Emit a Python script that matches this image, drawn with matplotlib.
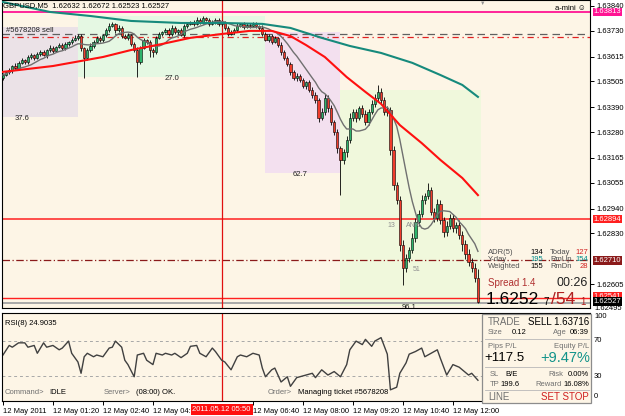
import numpy as np
import pandas as pd
import matplotlib
matplotlib.use("Agg")
import matplotlib.pyplot as plt
import matplotlib.transforms as mtransforms
from matplotlib.patches import Rectangle
from matplotlib.lines import Line2D

plt.rcParams['font.family'] = ['Liberation Sans', 'DejaVu Sans']

# ---- данные: GBPUSD M5, 12 May 2011, 00:00 .. 12:40 ----
open0 = 1.63520
closes = [
    1.63533, 1.63547, 1.63555, 1.63573, 1.63564, 1.63587, 1.63600, 1.63591, 1.63613, 1.63622,
    1.63609, 1.63627, 1.63635, 1.63622, 1.63644, 1.63653, 1.63640, 1.63658, 1.63666, 1.63653,
    1.63671, 1.63680, 1.63689, 1.63698, 1.63707, 1.63653, 1.63609, 1.63644, 1.63662, 1.63680,
    1.63698, 1.63689, 1.63711, 1.63733, 1.63751, 1.63760, 1.63733, 1.63742, 1.63707, 1.63698,
    1.63711, 1.63671, 1.63644, 1.63591, 1.63653, 1.63689, 1.63680, 1.63644, 1.63635, 1.63698,
    1.63715, 1.63724, 1.63733, 1.63715, 1.63742, 1.63724, 1.63733, 1.63711, 1.63751, 1.63760,
    1.63769, 1.63760, 1.63777, 1.63769, 1.63786, 1.63777, 1.63760, 1.63769, 1.63777, 1.63760,
    1.63769, 1.63742, 1.63715, 1.63724, 1.63733, 1.63751, 1.63760, 1.63746, 1.63755, 1.63751,
    1.63760, 1.63751, 1.63742, 1.63715, 1.63689, 1.63707, 1.63680, 1.63698, 1.63666, 1.63635,
    1.63609, 1.63582, 1.63547, 1.63520, 1.63529, 1.63511, 1.63485, 1.63502, 1.63467, 1.63445,
    1.63422, 1.63342, 1.63369, 1.63431, 1.63387, 1.63325, 1.63280, 1.63209, 1.63156, 1.63191,
    1.63245, 1.63342, 1.63369, 1.63342, 1.63387, 1.63360, 1.63325, 1.63369, 1.63405, 1.63431,
    1.63458, 1.63422, 1.63369, 1.63378, 1.63200, 1.63045, 1.62978, 1.62779, 1.62677, 1.62721,
    1.62756, 1.62810, 1.62881, 1.62916, 1.62978, 1.62996, 1.63023, 1.62926, 1.62899, 1.62961,
    1.62890, 1.62836, 1.62863, 1.62899, 1.62854, 1.62867, 1.62823, 1.62783, 1.62739, 1.62703,
    1.62677, 1.62632, 1.62527,
]
# тени свечей, в пунктах (0.00001)
upper_wick = [
    8, 6, 10, 5, 12, 7, 9, 6, 11, 8,
    6, 10, 7, 9, 5, 12, 8, 6, 10, 7,
    9, 6, 8, 11, 7, 10, 6, 9, 12, 8,
    7, 10, 6, 9, 14, 8, 6, 11, 7, 9,
    8, 6, 10, 12, 7, 9, 6, 8, 11, 7,
    10, 6, 9, 7, 12, 8, 6, 10, 7, 9,
    6, 8, 12, 7, 10, 6, 9, 8, 11, 7,
    9, 6, 10, 8, 7, 12, 6, 9, 8, 10,
    7, 9, 6, 11, 8, 10, 7, 9, 6, 12,
    8, 10, 7, 9, 12, 8, 10, 6, 9, 11,
    14, 10, 16, 20, 12, 15, 10, 12, 9, 14,
    18, 22, 12, 15, 10, 14, 16, 12, 18, 20,
    31, 18, 14, 16, 12, 20, 15, 18, 22, 16,
    14, 20, 18, 16, 22, 15, 31, 14, 18, 20,
    16, 14, 20, 18, 16, 14, 22, 18, 16, 20,
    18, 22, 40,
]
lower_wick = [
    10, 6, 8, 12, 7, 9, 6, 10, 8, 7,
    9, 7, 10, 6, 12, 8, 9, 7, 6, 10,
    8, 7, 9, 6, 10, 12, 89, 8, 7, 9,
    6, 10, 8, 7, 9, 6, 12, 8, 10, 7,
    9, 8, 7, 67, 10, 6, 9, 30, 20, 8,
    7, 9, 6, 10, 8, 7, 9, 6, 10, 8,
    6, 9, 7, 10, 8, 6, 9, 7, 10, 8,
    9, 7, 10, 6, 8, 9, 7, 10, 6, 8,
    7, 10, 8, 9, 6, 10, 8, 7, 9, 12,
    10, 8, 12, 9, 14, 10, 8, 12, 10, 14,
    12, 16, 10, 14, 18, 12, 15, 20, 155, 18,
    22, 14, 12, 16, 10, 14, 12, 16, 10, 12,
    15, 18, 14, 16, 20, 22, 18, 25, 76, 20,
    18, 15, 20, 16, 14, 18, 12, 16, 20, 14,
    18, 20, 16, 14, 18, 20, 16, 30, 22, 18,
    20, 16, 4,
]

# скользящие средние (красная и бирюзовая), точки по барам
red_bars = [0, 16, 32, 41, 51, 60, 70, 79, 86, 92, 97, 103, 110, 116, 121, 127, 134, 140, 147, 152]
red_vals = [1.63547, 1.63573, 1.63613, 1.63644, 1.63671, 1.63698, 1.63715, 1.63729, 1.63729, 1.63706,
            1.63666, 1.63613, 1.63524, 1.63458, 1.63405, 1.63311, 1.63231, 1.63156, 1.63076, 1.63000]
teal_bars = [0, 15, 28, 41, 57, 70, 83, 92, 102, 111, 121, 131, 140, 147, 152]
teal_vals = [1.63857, 1.63813, 1.63795, 1.63773, 1.63764, 1.63764, 1.63760, 1.63742, 1.63698, 1.63662,
             1.63631, 1.63587, 1.63533, 1.63489, 1.63436]

# RSI(8)
rsi_bars = [0, 2, 3, 5, 7, 8, 10, 11, 13, 14, 16, 18, 19, 21, 22, 24, 25, 26, 27, 29,
            30, 32, 34, 35, 36, 38, 39, 40, 42, 43, 45, 46, 48, 49, 51, 52, 54, 55, 57, 59,
            60, 62, 63, 65, 67, 68, 70, 71, 73, 75, 76, 78, 80, 82, 83, 84, 86, 87, 89, 91,
            92, 94, 95, 97, 99, 100, 102, 104, 106, 108, 110, 111, 113, 115, 116, 118, 119, 121, 123, 124,
            126, 127, 129, 130, 132, 134, 135, 137, 139, 140, 142, 144, 146, 147, 149, 150, 152]
rsi_vals = [54, 65, 63, 68, 68, 63, 65, 56, 68, 63, 65, 60, 62, 70, 56, 46, 33, 52, 56, 52,
            54, 52, 62, 63, 70, 63, 48, 43, 29, 54, 56, 48, 43, 56, 54, 56, 54, 56, 51, 56,
            64, 65, 56, 52, 62, 58, 48, 46, 37, 52, 54, 52, 56, 54, 39, 29, 37, 39, 23, 29,
            18, 28, 29, 31, 33, 28, 37, 31, 35, 29, 43, 60, 70, 66, 72, 64, 70, 74, 55, 14,
            17, 33, 45, 55, 58, 62, 52, 56, 60, 50, 31, 43, 40, 37, 31, 33, 25]

# сессии: начало, конец (бары), максимум, минимум, подпись
sess_start = [-0.5, 24, 84, 108]
sess_end = [24, 84, 108, 153]
sess_high = [1.63746, 1.63795, 1.63724, 1.63467]
sess_low = [1.63347, 1.63524, 1.63098, 1.62508]
sess_label = ['37.6', '27.0', '62.7', '96.1']
sess_label_bar = [6, 54, 95, 130]

price_ticks = [1.63840, 1.63730, 1.63615, 1.63505, 1.63390, 1.63280, 1.63165,
               1.63055, 1.62940, 1.62830, 1.62605]
time_tick_bars = [0, 16, 32, 48, 80, 96, 112, 128, 144]
time_tick_labels = ['12 May 2011', '12 May 01:20', '12 May 02:40', '12 May 04:00',
                    '12 May 06:40', '12 May 08:00', '12 May 09:20', '12 May 10:40', '12 May 12:00']

W, H = 625, 416
BG = '#fdf5e6'
BULL = '#2eb36b'
BEAR = '#f03c2c'


def ptext(x, y, s, **kw):
    kw.setdefault('va', 'center')
    kw.setdefault('fontsize', 5.5)
    kw.setdefault('zorder', 7)
    fig.text(x / W, 1 - y / H, s, **kw)


def hline_px(x0, x1, y, color='#b8b8b8', lw=0.6):
    fig.add_artist(Line2D([x0 / W, x1 / W], [1 - y / H, 1 - y / H],
                          transform=fig.transFigure, color=color, lw=lw, zorder=6))


fig = plt.figure(figsize=(6.25, 4.16), dpi=100)
fig.patch.set_facecolor('white')

ax = fig.add_axes([2 / W, 1 - 308 / H, 588 / W, 308 / H])
ax2 = fig.add_axes([2 / W, 1 - 401 / H, 588 / W, 88 / H])
XLIM = (-0.3, 187.86)

# ---- главный график ----
closes = np.array(closes)
opens = np.concatenate([[open0], closes[:-1]])
highs = np.maximum(opens, closes) + np.array(upper_wick) * 1e-5
lows = np.minimum(opens, closes) - np.array(lower_wick) * 1e-5
x = np.arange(len(closes))

ax.set_facecolor(BG)
ax.set_xlim(*XLIM)
ax.set_ylim(1.62499, 1.63866)

sess_colors = ['#ebe2e7', '#e5f8e3', '#f3e0ef', '#f0f8dc']
for s0, s1, hi, lo, lab, lb, col in zip(sess_start, sess_end, sess_high, sess_low,
                                        sess_label, sess_label_bar, sess_colors):
    ax.add_patch(Rectangle((s0, lo), s1 - s0, hi - lo, fc=col, ec='none', zorder=0.5))
    ax.text(lb, lo - 0.00008, lab, fontsize=5.5, ha='center', va='center',
            color='#202020', clip_on=False, zorder=2)

# горизонтальные уровни
ax.axhline(1.63813, color='#ff1493', lw=1.3, zorder=2)
ax.axhline(1.63716, color='#606060', lw=0.9, ls=(0, (6, 4)), zorder=2)
ax.axhline(1.63700, color='#e02020', lw=0.9, ls=(0, (5, 3, 1, 3)), zorder=2)
ax.axhline(1.62894, color='#ff2020', lw=1.1, zorder=2)
ax.axhline(1.62710, color='#8b1a1a', lw=0.9, ls=(0, (6, 2, 1, 2)), zorder=2)
ax.axhline(1.62545, color='#ff2020', lw=1.0, zorder=2)
ax.axhline(1.62520, color='#a8a8a8', lw=1.4, zorder=2)
ax.axvline(70, color='#e01010', lw=0.9, zorder=2)
ax.text(1, 1.63732, '#5678208 sell', fontsize=5.5, color='#202020', va='center', zorder=3)

# свечи
ax.vlines(x, lows, highs, color='black', lw=0.6, zorder=3)
up = closes >= opens
ax.bar(x[up], (closes - opens)[up], bottom=opens[up], width=0.75, color=BULL,
       edgecolor='black', lw=0.4, zorder=4)
ax.bar(x[~up], (closes - opens)[~up], bottom=opens[~up], width=0.75, color=BEAR,
       edgecolor='black', lw=0.4, zorder=4)

# средние
gray_ma = pd.Series(closes).rolling(10, min_periods=1).mean()
ax.plot(x, gray_ma, color='#707070', lw=1.0, zorder=5)
ax.plot(red_bars, red_vals, color='#ff1010', lw=1.5, zorder=5)
ax.plot(teal_bars, teal_vals, color='#168a7c', lw=1.5, zorder=5)

ax.text(123, 1.62865, '13', fontsize=5, color='#909090', va='center', zorder=5)
ax.text(129, 1.62865, 'ANK', fontsize=5, color='#909090', va='center', zorder=5)
ax.text(131, 1.62672, '51', fontsize=5, color='#909090', va='center', zorder=5)

# правая шкала цен
ax.yaxis.tick_right()
ax.set_yticks(price_ticks)
ax.set_yticklabels([f'{p:.5f}' for p in price_ticks])
ax.tick_params(axis='y', labelsize=5.5, length=3, pad=2, width=0.7)
ax.set_xticks([])
for sp in ax.spines.values():
    sp.set_color('black')
    sp.set_linewidth(0.8)

bt = mtransforms.blended_transform_factory(ax.transAxes, ax.transData)
ax.text(1.008, 1.62495, '1.62495', transform=bt, fontsize=5.5, va='center', clip_on=False)
for val, s, fc in [(1.63813, '1.63813', '#ff1493'), (1.62894, '1.62894', '#ff2020'),
                   (1.62710, '1.62710', '#8b1a1a'), (1.62550, '1.62541', '#ff2020'),
                   (1.62527, '1.62527', 'black')]:
    ax.text(1.006, val, s, transform=bt, fontsize=5.5, color='white', va='center',
            clip_on=False, zorder=8,
            bbox=dict(boxstyle='square,pad=0.12', fc=fc, ec='none'))

# ---- RSI ----
ax2.set_facecolor(BG)
ax2.set_xlim(*XLIM)
ax2.set_ylim(1.15, 102.3)
ax2.axhline(70, color='#a8a8a8', lw=0.7, ls=(0, (3, 3)))
ax2.axhline(30, color='#a8a8a8', lw=0.7, ls=(0, (3, 3)))
ax2.axvline(70, color='#e01010', lw=0.9)
ax2.plot(rsi_bars, rsi_vals, color='#404040', lw=1.0)
ax2.set_yticks([])
ax2.set_xticks(time_tick_bars)
ax2.set_xticklabels(time_tick_labels, ha='left')
ax2.tick_params(axis='x', labelsize=5.5, length=3, pad=2, width=0.7)
for sp in ax2.spines.values():
    sp.set_color('black')
    sp.set_linewidth(0.8)
ax2.text(0.005, 0.88, 'RSI(8) 24.9035', transform=ax2.transAxes, fontsize=5.5, va='center')

bt2 = mtransforms.blended_transform_factory(ax2.transData, ax2.transAxes)
ax2.text(70, -0.1, '2011.05.12 05:50', transform=bt2, fontsize=5.5, color='white',
         ha='center', va='center', clip_on=False, zorder=8,
         bbox=dict(boxstyle='square,pad=0.25', fc='#ff1010', ec='none'))

for v, y in [('100', 317), ('70', 341), ('30', 377), ('0', 397)]:
    ptext(594, y, v)

# ---- строка статуса ----
ptext(5, 392, 'Command>', color='#707070')
ptext(49, 392, 'IDLE', color='black')
ptext(104, 392, 'Server>', color='#707070')
ptext(136, 392, '(08:00) OK.', color='black')
ptext(268, 392, 'Order>', color='#707070')
ptext(298, 392, 'Managing ticket #5678208', color='black')

# ---- верх ----
ptext(3, 6, 'GBPUSD,M5  1.62632 1.62672 1.62523 1.62527', color='black')
ptext(586, 8, 'a-mini \u263a', color='black', ha='right')
ptext(483, 3, '\u25bc', color='#909090', fontsize=4, ha='center')

# ---- панель ADR ----
for y, lab, v1, c1, lab2, v2, c2 in [
        (253, 'ADR(5)', '134', 'black', 'Today', '127', '#d02020'),
        (259.5, 'Y-day', '195', '#008c8c', 'RmUp', '154', '#008c8c'),
        (267, 'Weighted', '155', 'black', 'RmDn', '28', '#d02020')]:
    ptext(488, y, lab, color='#505050')
    ptext(530, y, v1, color=c1)
    ptext(550, y, lab2, color='#505050')
    ptext(588, y, v2, color=c2, ha='right')
ptext(488, 283, 'Spread 1.4', color='#b03030', fontsize=7)
ptext(588, 283, '00:26', color='#202020', fontsize=9, ha='right')
ptext(486, 299, '1.6252', color='black', fontsize=12.5)
ptext(543, 302, '7', color='black', fontsize=7)
ptext(551, 299, '/54', color='#b02020', fontsize=12.5)
ptext(580, 302, '1', color='#b02020', fontsize=7)

# ---- панель сделки ----
fig.add_artist(Rectangle((482 / W, 1 - 403 / H), 109 / W, 89 / H, transform=fig.transFigure,
                         fc=BG, ec='#8c8c8c', lw=0.9, zorder=6))
ptext(488, 322, 'TRADE', color='#707070', fontsize=7)
ptext(589, 322, 'SELL 1.63716', color='black', fontsize=7, ha='right')
ptext(488, 332, 'Size', color='#707070')
ptext(512, 332, '0.12', color='black')
ptext(553, 332, 'Age', color='#707070')
ptext(589, 332, '06:39', color='black', ha='right')
hline_px(485, 589, 339)
ptext(488, 346, 'Pips P/L', color='#707070')
ptext(589, 346, 'Equity P/L', color='#707070', ha='right')
ptext(484, 358, '+117.5', color='black', fontsize=9.5)
ptext(590, 358, '+9.47%', color='#12938a', fontsize=10.5, ha='right')
hline_px(485, 589, 367)
ptext(490, 375, 'SL', color='#707070')
ptext(505, 375, 'B/E', color='black')
ptext(548, 375, 'Risk', color='#707070')
ptext(589, 375, '0.00%', color='black', ha='right')
ptext(490, 384, 'TP', color='#707070')
ptext(500, 384, '199.6', color='black')
ptext(535, 384, 'Reward', color='#707070')
ptext(589, 384, '16.08%', color='black', ha='right')
hline_px(485, 589, 390)
ptext(488, 397, 'LINE', color='#707070', fontsize=7)
ptext(589, 397, 'SET STOP', color='#d02020', fontsize=7, ha='right')

fig.savefig('out.png', dpi=100, facecolor=fig.get_facecolor())
